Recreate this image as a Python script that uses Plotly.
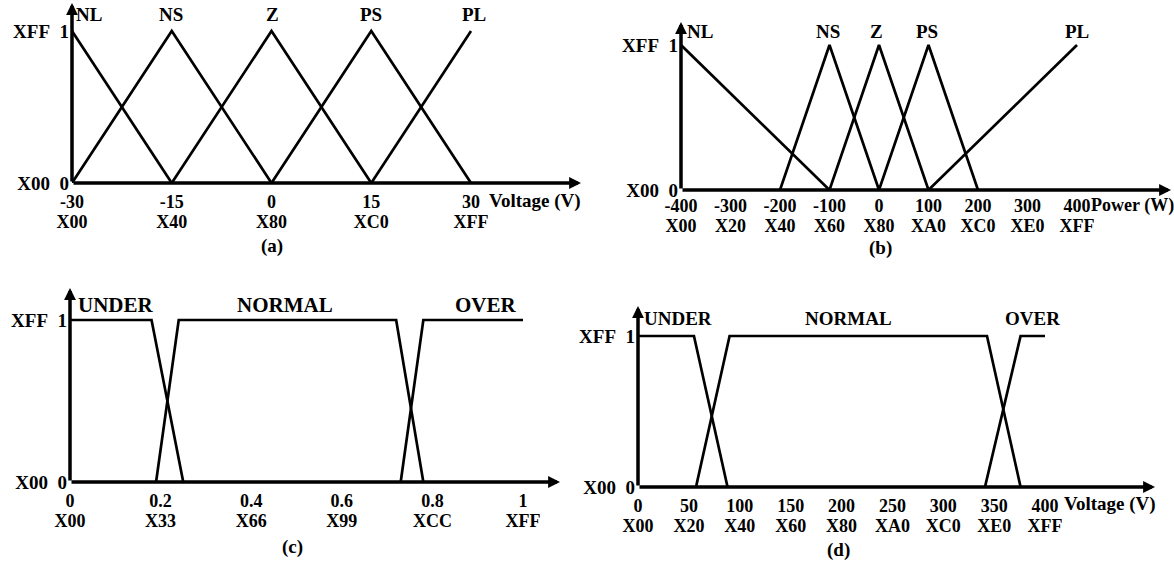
import plotly.graph_objects as go

# ---------------- data ----------------
# (a) voltage error membership functions
A_TICKS = [-30, -15, 0, 15, 30]
A_HEX = ["X00", "X40", "X80", "XC0", "XFF"]
A_NAMES = ["NL", "NS", "Z", "PS", "PL"]
A_NL_X = [-30, -15]
A_NL_Y = [1, 0]
A_NS_X = [-30, -15, 0]
A_NS_Y = [0, 1, 0]
A_Z_X = [-15, 0, 15]
A_Z_Y = [0, 1, 0]
A_PS_X = [0, 15, 30]
A_PS_Y = [0, 1, 0]
A_PL_X = [15, 30]
A_PL_Y = [0, 1]

# (b) power membership functions
B_TICKS = [-400, -300, -200, -100, 0, 100, 200, 300, 400]
B_HEX = ["X00", "X20", "X40", "X60", "X80", "XA0", "XC0", "XE0", "XFF"]
B_NAMES = ["NL", "NS", "Z", "PS", "PL"]
B_NL_X = [-400, -100]
B_NL_Y = [1, 0]
B_NS_X = [-200, -100, 0]
B_NS_Y = [0, 1, 0]
B_Z_X = [-100, 0, 100]
B_Z_Y = [0, 1, 0]
B_PS_X = [0, 100, 200]
B_PS_Y = [0, 1, 0]
B_PL_X = [100, 400]
B_PL_Y = [0, 1]

# (c) normalised membership functions
C_TICKS = [0, 0.2, 0.4, 0.6, 0.8, 1]
C_TEXT = ["0", "0.2", "0.4", "0.6", "0.8", "1"]
C_HEX = ["X00", "X33", "X66", "X99", "XCC", "XFF"]
C_NAMES = ["UNDER", "NORMAL", "OVER"]
C_UNDER_X = [0, 0.18, 0.25]
C_UNDER_Y = [1, 1, 0]
C_NORMAL_X = [0.19, 0.24, 0.72, 0.78]
C_NORMAL_Y = [0, 1, 1, 0]
C_OVER_X = [0.73, 0.78, 1.0]
C_OVER_Y = [0, 1, 1]

# (d) voltage membership functions
D_TICKS = [0, 50, 100, 150, 200, 250, 300, 350, 400]
D_HEX = ["X00", "X20", "X40", "X60", "X80", "XA0", "XC0", "XE0", "XFF"]
D_NAMES = ["UNDER", "NORMAL", "OVER"]
D_UNDER_X = [0, 55, 88]
D_UNDER_Y = [1, 1, 0]
D_NORMAL_X = [57, 90, 343, 376]
D_NORMAL_Y = [0, 1, 1, 0]
D_OVER_X = [341, 376, 400]
D_OVER_Y = [0, 1, 1]

Y_TICKS = [0, 1]
Y_TEXT = ["X00\u00a0\u00a00", "XFF\u00a0\u00a01"]

# ---------------- layout helpers ----------------
W, H = 1174, 561
FONT = "Liberation Serif"
FS = 19
TFS = 18


def b(t):
    return "<b>" + t + "</b>"


# panel geometry: origin pixel, px per unit, arrow tip pixels
PANELS = {
    "a": dict(ox=72, oy=183, x0=-30, sx=399 / 60, sy=152, tx=581, ty=3, n=1),
    "b": dict(ox=681, oy=190, x0=-400, sx=0.495, sy=145, tx=1171, ty=22, n=2),
    "c": dict(ox=70, oy=482, x0=0, sx=453, sy=162, tx=560, ty=288, n=3),
    "d": dict(ox=638, oy=487, x0=0, sx=1.0175, sy=151, tx=1155, ty=306, n=4),
}

fig = go.Figure()
layout = dict(
    template="none",
    width=W, height=H, margin=dict(l=0, r=0, t=0, b=0, pad=0, autoexpand=False),
    paper_bgcolor="white", plot_bgcolor="rgba(0,0,0,0)",
    showlegend=False, font=dict(family=FONT, size=FS, color="black"),
    hovermode=False,
)
annotations = []

series = {
    "a": [(A_NL_X, A_NL_Y), (A_NS_X, A_NS_Y), (A_Z_X, A_Z_Y), (A_PS_X, A_PS_Y), (A_PL_X, A_PL_Y)],
    "b": [(B_NL_X, B_NL_Y), (B_NS_X, B_NS_Y), (B_Z_X, B_Z_Y), (B_PS_X, B_PS_Y), (B_PL_X, B_PL_Y)],
    "c": [(C_UNDER_X, C_UNDER_Y), (C_NORMAL_X, C_NORMAL_Y), (C_OVER_X, C_OVER_Y)],
    "d": [(D_UNDER_X, D_UNDER_Y), (D_NORMAL_X, D_NORMAL_Y), (D_OVER_X, D_OVER_Y)],
}
ticks = {
    "a": (A_TICKS, [str(v) for v in A_TICKS], A_HEX),
    "b": (B_TICKS, [str(v) for v in B_TICKS], B_HEX),
    "c": (C_TICKS, C_TEXT, C_HEX),
    "d": (D_TICKS, [str(v) for v in D_TICKS], D_HEX),
}
row1_off = {"a": 6, "b": 3, "c": 6, "d": 6}
row2_gap = {"a": 20, "b": 20, "c": 20, "d": 20}

for key, p in PANELS.items():
    n = p["n"]
    xr = [p["x0"], p["x0"] + (p["tx"] - p["ox"]) / p["sx"]]
    yr = [0, (p["oy"] - p["ty"]) / p["sy"]]
    xdom = [p["ox"] / W, p["tx"] / W]
    ydom = [1 - p["oy"] / H, 1 - p["ty"] / H]
    xa, ya = f"x{n}", f"y{n}"
    xa2 = f"x{n + 4}"
    tv, tt, th = ticks[key]
    common = dict(showgrid=False, zeroline=False, showline=False, ticks="",
                  automargin=False, fixedrange=True, tickfont=dict(size=TFS))
    layout[f"xaxis{n}"] = dict(
        domain=xdom, range=xr, anchor=ya, tickvals=tv,
        ticktext=[b(t) for t in tt], ticklabelstandoff=row1_off[key], **common,
    )
    layout[f"xaxis{n + 4}"] = dict(
        overlaying=xa, range=xr, anchor=ya, side="bottom", tickvals=tv,
        ticktext=[b(t) for t in th],
        ticklabelstandoff=row1_off[key] + row2_gap[key], **common,
    )
    layout[f"yaxis{n}"] = dict(
        domain=ydom, range=yr, anchor=xa, tickvals=Y_TICKS,
        ticktext=[b(t) for t in Y_TEXT], ticklabelstandoff=2,
        **{**common, "tickfont": dict(size=FS)},
    )
    for xs, ys in series[key]:
        fig.add_trace(go.Scatter(x=xs, y=ys, mode="lines", xaxis=xa, yaxis=ya,
                                 line=dict(color="black", width=2.7), cliponaxis=False))
    fig.add_trace(go.Scatter(x=[], y=[], xaxis=xa2, yaxis=ya))
    # axis arrows
    annotations.append(dict(x=xr[1], y=0, ax=xr[0], ay=0, xref=xa, yref=ya, axref=xa, ayref=ya,
                            text="", showarrow=True, arrowhead=2, arrowsize=0.68,
                            arrowwidth=3.5, arrowcolor="black", standoff=0, startstandoff=0))
    annotations.append(dict(x=xr[0], y=yr[1], ax=xr[0], ay=0, xref=xa, yref=ya, axref=xa, ayref=ya,
                            text="", showarrow=True, arrowhead=2, arrowsize=0.68,
                            arrowwidth=3.5, arrowcolor="black", standoff=0, startstandoff=0))


def txt(px, py, t, anchor="center", size=FS):
    annotations.append(dict(x=px / W, y=1 - py / H, xref="paper", yref="paper", text=b(t),
                            showarrow=False, xanchor=anchor, yanchor="middle",
                            font=dict(size=size, family=FONT, color="black")))


# curve name labels
for name, px in zip(A_NAMES, [89, 171, 272, 371, 474]):
    txt(px, 15, name)
for name, px in zip(B_NAMES, [700, 828, 876, 927, 1077]):
    txt(px, 32, name)
txt(76, 305, C_NAMES[0], "left", 21)
txt(285, 305, C_NAMES[1], "center", 21)
txt(519, 305, C_NAMES[2], "right", 21)
txt(642, 318, D_NAMES[0], "left")
txt(848, 318, D_NAMES[1], "center")
txt(1032, 318, D_NAMES[2], "center")

# axis titles and captions
txt(487, 201, "Voltage (V)", "left")
txt(1089, 205, "Power (W)", "left", 18)
txt(1062, 504, "Voltage (V)", "left")
txt(272, 246, "(a)")
txt(880, 248, "(b)")
txt(292, 547, "(c)")
txt(838, 550, "(d)")

layout["annotations"] = annotations
fig.update_layout(**layout)
fig.write_html("out.html")
